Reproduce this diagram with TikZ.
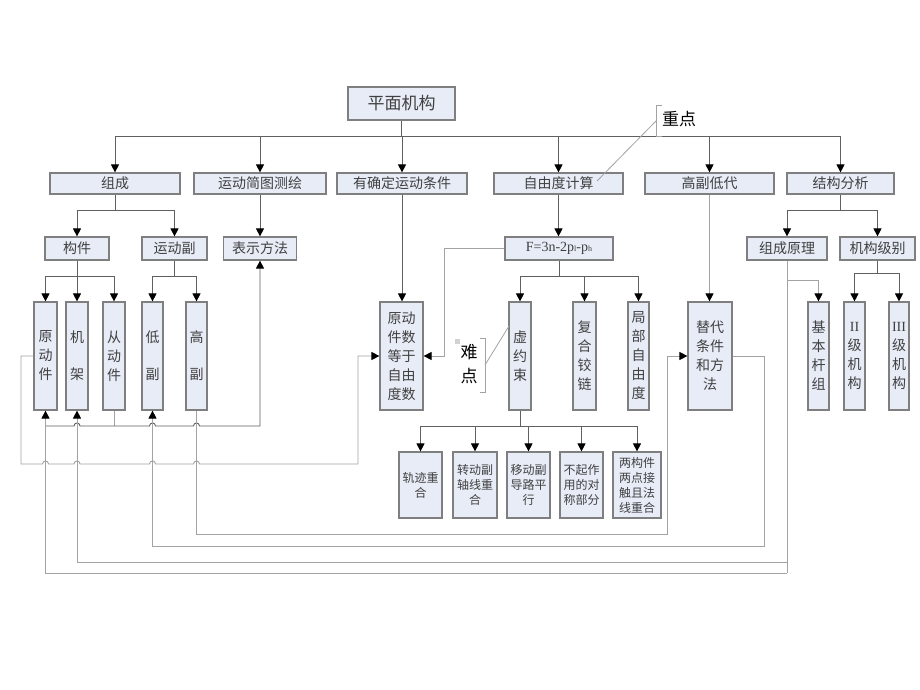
\documentclass[tikz,border=0pt]{standalone}
\usepackage{fontspec}
\setmainfont{Liberation Serif}
\newfontfamily\cjk{Noto Sans CJK SC}
\usetikzlibrary{arrows.meta}
\definecolor{boxfill}{HTML}{E7ECF7}
\definecolor{boxline}{HTML}{7F7F7F}
\definecolor{treeline}{HTML}{606060}
\definecolor{loopline}{HTML}{A3A3A3}
\definecolor{txt}{HTML}{404040}
\begin{document}
\begin{tikzpicture}[x=1pt,y=-1pt,
  box/.style={draw=boxline, fill=boxfill, line width=1.2pt, inner sep=0pt, text=txt,
    font=\cjk\fontsize{14}{19}\selectfont, align=center},
  hbox/.style={box, minimum height=21pt},
  mbox/.style={box, minimum height=23pt},
  vbox/.style={box, minimum height=108pt},
  sbox/.style={box, minimum height=66pt, font=\cjk\fontsize{12}{15}\selectfont},
  tree/.style={draw=treeline, line width=0.9pt},
  loopl/.style={draw=loopline, line width=0.9pt},
  arr/.style={-{Triangle[width=8pt,length=8pt,color=black]}},
  callout/.style={draw=loopline, line width=0.8pt}
]
\fill[white] (0,0) rectangle (920,690);
\useasboundingbox (0,0) rectangle (920,690);

% top
\node[box, minimum width=107pt, minimum height=33pt, font=\cjk\fontsize{17}{20}\selectfont] (top) at (401.5,103.5) {平面机构};

% level 2
\node[hbox, minimum width=130pt] (zucheng) at (115,183.5) {组成};
\node[hbox, minimum width=132pt] (jianshu) at (260,183.5) {运动简图测绘};
\node[hbox, minimum width=130pt] (queding) at (402,183.5) {有确定运动条件};
\node[hbox, minimum width=129pt] (ziyou) at (558.5,183.5) {自由度计算};
\node[hbox, minimum width=129pt] (gaodi) at (709.5,183.5) {高副低代};
\node[hbox, minimum width=107pt] (jiegou) at (840.5,183.5) {结构分析};

% level 3
\node[mbox, minimum width=64pt] (goujian) at (77,248.5) {构件};
\node[mbox, minimum width=65pt] (yundong) at (174.5,248.5) {运动副};
\node[mbox, minimum width=73pt] (biaoshi) at (260,248.5) {表示方法};
\node[mbox, minimum width=108pt, font=\rmfamily\fontsize{14}{16}\selectfont] (formula) at (559,248.5)
  {F=3n-2p{\fontsize{8}{8}\selectfont l}-p{\fontsize{8}{8}\selectfont h}};
\node[mbox, minimum width=80pt] (zcyl) at (787,248.5) {组成原理};
\node[mbox, minimum width=75pt] (jgjb) at (877.5,248.5) {机构级别};

% level 4
\node[vbox, minimum width=23pt] (ydj) at (45.5,356) {原\\动\\件};
\node[vbox, minimum width=22pt] (jj) at (77,356) {机\\[18pt]架};
\node[vbox, minimum width=22pt] (cdj) at (114,356) {从\\动\\件};
\node[vbox, minimum width=21pt] (df) at (152.5,356) {低\\[18pt]副};
\node[vbox, minimum width=21pt] (gf) at (196.5,356) {高\\[18pt]副};
\node[vbox, minimum width=43pt] (ydsh) at (401.5,356) {原动\\件数\\等于\\自由\\度数};
\node[vbox, minimum width=22pt] (xys) at (520,356) {虚\\约\\束};
\node[vbox, minimum width=23pt] (fh) at (584.5,356) {复\\合\\铰\\链};
\node[vbox, minimum width=21pt] (jb) at (638.5,356) {局\\部\\自\\由\\度};
\node[vbox, minimum width=44pt] (td) at (710,356) {替代\\条件\\和方\\法};
\node[vbox, minimum width=21pt] (jbgz) at (818.5,356) {基\\本\\杆\\组};
\node[vbox, minimum width=21pt] (j2) at (854.5,356) {{\rmfamily II}\\级\\机\\构};
\node[vbox, minimum width=20pt] (j3) at (899,356) {{\rmfamily III}\\级\\机\\构};

% level 5
\node[sbox, minimum width=43pt] (s1) at (420.5,485) {轨迹重\\合};
\node[sbox, minimum width=44pt] (s2) at (475,485) {转动副\\轴线重\\合};
\node[sbox, minimum width=43pt] (s3) at (528.5,485) {移动副\\导路平\\行};
\node[sbox, minimum width=43pt] (s4) at (581.5,485) {不起作\\用的对\\称部分};
\node[sbox, minimum width=48pt] (s5) at (637,485) {两构件\\两点接\\触且法\\线重合};

% tree connectors
\coordinate (bus) at (401.5,136);
\draw[tree] (top.south) -- (bus);
\foreach \n in {zucheng,jianshu,queding,ziyou,gaodi,jiegou}
  \draw[tree,arr] (bus) -| (\n.north);

\coordinate (zc1) at (115,210);
\draw[tree] (zucheng.south) -- (zc1);
\draw[tree,arr] (zc1) -| (goujian.north);
\draw[tree,arr] (zc1) -| (yundong.north);
\draw[tree,arr] (jianshu.south) -- (biaoshi.north);

\coordinate (gj1) at (77,276);
\draw[tree] (goujian.south) -- (gj1);
\foreach \n in {ydj,jj,cdj} \draw[tree,arr] (gj1) -| (\n.north);
\coordinate (yd1) at (174.5,276);
\draw[tree] (yundong.south) -- (yd1);
\foreach \n in {df,gf} \draw[tree,arr] (yd1) -| (\n.north);

\draw[tree,arr] (queding.south) -- (queding.south |- ydsh.north);
\draw[tree,arr] (ziyou.south) -- (ziyou.south |- formula.north);

\coordinate (f1) at (559,276);
\draw[tree] (formula.south) -- (f1);
\foreach \n in {xys,fh,jb} \draw[tree,arr] (f1) -| (\n.north);

\draw[loopl,arr] (gaodi.south) -- (gaodi.south |- td.north);

\coordinate (jg1) at (840.5,210);
\draw[tree] (jiegou.south) -- (jg1);
\draw[tree,arr] (jg1) -| (zcyl.north);
\draw[tree,arr] (jg1) -| (jgjb.north);
\coordinate (jb1) at (877.5,273);
\draw[tree] (jgjb.south) -- (jb1);
\draw[tree,arr] (jb1) -| (j2.north);
\draw[tree,arr] (jb1) -| (j3.north);

\coordinate (xy1) at (520,426);
\draw[tree] (xys.south) -- (xy1);
\foreach \n in {s1,s2,s3,s4,s5} \draw[tree,arr] (xy1) -| (\n.north);

% link to 表示方法 along y=426
\coordinate (c426) at (114,426);
\draw[loopl] (cdj.south) -- (c426);
\draw[tree,arr] (45.5,426) -- (74,426) .. controls (74,422) and (80,422) .. (80,426)
  -- (149.5,426) .. controls (149.5,422) and (155.5,422) .. (155.5,426)
  -- (193.5,426) .. controls (193.5,422) and (199.5,422) .. (199.5,426)
  -- (260,426) -- (biaoshi.south);

% 原动件 -> 原动件数等于自由度数
\draw[loopl,arr] (ydj.west) -| (21,464) -- (42.5,464) .. controls (42.5,460) and (48.5,460) .. (48.5,464)
  -- (74,464) .. controls (74,460) and (80,460) .. (80,464)
  -- (149.5,464) .. controls (149.5,460) and (155.5,460) .. (155.5,464)
  -- (193.5,464) .. controls (193.5,460) and (199.5,460) .. (199.5,464)
  -- (358,464) |- (ydsh.west);

% F -> 原动件数等于自由度数
\draw[loopl,arr] (formula.west) -- (444,248.5) |- (ydsh.east);

% 组成原理 branches
\coordinate (zl1) at (787,280);
\coordinate (zl2) at (787,573);
\coordinate (zl3) at (787,562);
\draw[loopl] (zcyl.south) -- (zl2);
\draw[loopl,arr] (zl1) -| (jbgz.north);
\draw[loopl,arr] (zl2) -| (ydj.south);
\draw[loopl,arr] (zl3) -| (jj.south);

% 替代 <-> 低副 / 高副
\draw[loopl,arr] (td.east) -| (764,546) -| (df.south);
\draw[loopl,arr] (gf.south) |- (667,534) |- (td.west);

% callouts
\draw[callout] (662,105) -- (656,105) -- (656,136) -- (662,136);
\node[anchor=west, inner sep=0pt, text=black, font=\cjk\fontsize{17}{20}\selectfont] (zd) at (662,119) {重点};
\coordinate (zdc) at (656,121);
\coordinate (zdt) at (597,181);
\draw[callout] (zdc) -- (zdt);

\fill[gray!35] (455,339) rectangle (460,344);
\node[inner sep=0pt, text=black, align=center, font=\cjk\fontsize{17}{24}\selectfont] (nd) at (469,364) {难\\点};
\draw[callout] (480,338) -- (485,338) -- (485,392) -- (480,392);
\coordinate (ndc) at (485,365);
\coordinate (ndt) at (509,326);
\draw[callout] (ndc) -- (ndt);
\end{tikzpicture}
\end{document}
